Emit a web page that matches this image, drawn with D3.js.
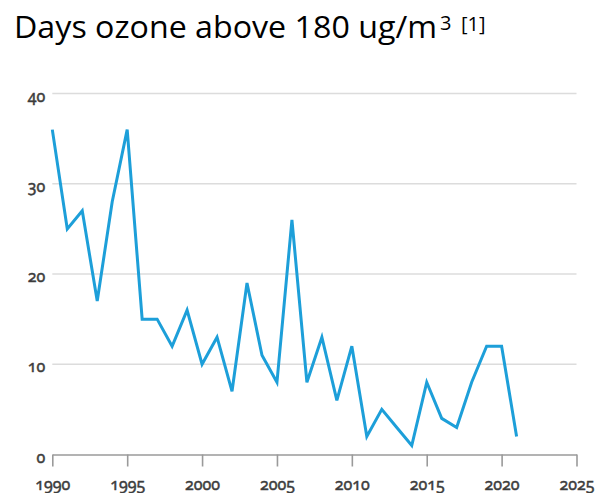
<!DOCTYPE html>
<html>
<head>
<meta charset="utf-8">
<script src="https://cdn.jsdelivr.net/npm/d3@7"></script>
<style>
  html, body { margin: 0; padding: 0; background: #fff; }
  svg { display: block; }
</style>
</head>
<body>
<svg id="chart" width="595" height="493"></svg>
<script>
const years = [1990,1991,1992,1993,1994,1995,1996,1997,1998,1999,2000,2001,2002,2003,2004,2005,2006,2007,2008,2009,2010,2011,2012,2013,2014,2015,2016,2017,2018,2019,2020,2021];
const days  = [36,25,27,17,28,36,15,15,12,16,10,13,7,19,11,8,26,8,13,6,12,2,5,3,1,8,4,3,8,12,12,2];
const xTicks = [1990,1995,2000,2005,2010,2015,2020,2025];
const yTicks = [0,10,20,30,40];
const titleMain = "Days ozone above 180 ug/m";
const titleSup = "3";
const titleRef = "[1]";

const svg = d3.select("#chart");
const x = d3.scaleLinear().domain([1990, 2025]).range([52.3, 576.5]);
const y = d3.scaleLinear().domain([0, 40]).range([454.5, 93.5]);

function styleTicks(sel) {
  sel.selectAll(".tick text")
    .style("font-family", "'Noto Sans', 'Open Sans', sans-serif")
    .style("font-size", "16px")
    .style("font-weight", "400")
    .style("font-variant-numeric", "oldstyle-nums")
    .attr("fill", "#3c3c3c")
    .attr("stroke", "#3c3c3c")
    .attr("stroke-width", 0.45);
}

// gridlines
svg.append("g")
  .selectAll("line")
  .data(yTicks.filter(d => d > 0))
  .join("line")
  .attr("x1", x(1990)).attr("x2", x(2025))
  .attr("y1", d => y(d)).attr("y2", d => y(d))
  .attr("stroke", "#dcdcdc").attr("stroke-width", 1.6);

// y labels
const yAxis = svg.append("g")
  .attr("transform", `translate(${x(1990)},0)`)
  .call(d3.axisLeft(y).tickValues(yTicks).tickSize(0).tickPadding(7).tickFormat(d3.format("d")));
yAxis.select(".domain").remove();
styleTicks(yAxis);
yAxis.selectAll(".tick text").attr("dy", null).attr("y", 7.5);

// x axis
const xAxis = svg.append("g")
  .attr("transform", `translate(0,${y(0)})`)
  .call(d3.axisBottom(x).tickValues(xTicks).tickSize(12).tickSizeOuter(0).tickFormat(d3.format("d")));
xAxis.select(".domain").attr("stroke", "#9a9a9a").attr("stroke-width", 1.6);
xAxis.selectAll(".tick line").attr("stroke", "#9a9a9a").attr("stroke-width", 1.6);
styleTicks(xAxis);
xAxis.selectAll(".tick text").attr("dy", null).attr("y", 35);

// line
const line = d3.line().x((d, i) => x(years[i])).y(d => y(d));
svg.append("path")
  .datum(days)
  .attr("d", line)
  .attr("fill", "none")
  .attr("stroke", "#1d9fd9")
  .attr("stroke-width", 3)
  .attr("stroke-linejoin", "miter");

// title
const t = svg.append("text")
  .attr("x", 14).attr("y", 38)
  .attr("font-family", "'Open Sans', 'Noto Sans', sans-serif")
  .attr("font-size", 31)
  .attr("fill", "#000");
t.append("tspan").text(titleMain)
  .attr("textLength", 423).attr("lengthAdjust", "spacingAndGlyphs");
svg.append("text")
  .attr("x", 440).attr("y", 30)
  .attr("font-family", "'Open Sans', 'Noto Sans', sans-serif")
  .attr("font-size", 20).attr("fill", "#000")
  .text(titleSup);
svg.append("text")
  .attr("x", 461).attr("y", 31)
  .attr("font-family", "'Open Sans', 'Noto Sans', sans-serif")
  .attr("font-size", 20).attr("fill", "#000")
  .text(titleRef);
</script>
</body>
</html>
